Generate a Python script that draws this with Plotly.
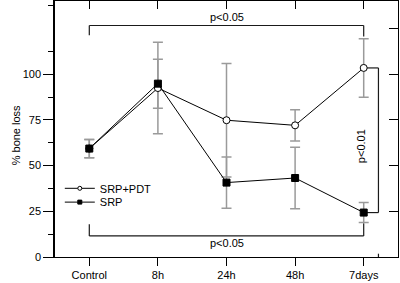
import plotly.graph_objects as go

categories = ["Control", "8h", "24h", "48h", "7days"]
x_pos = [0, 1, 2, 3, 4]
srp_pdt = [59.3, 92.4, 74.8, 72.0, 103.4]
srp_pdt_err = [5.0, 25.0, 31.0, 8.5, 16.0]
srp = [59.3, 94.8, 40.7, 43.2, 24.3]
srp_err = [5.0, 13.4, 14.0, 16.8, 5.5]
y_major = [0, 25, 50, 75, 100]
y_minor = [12.5, 37.5, 62.5, 87.5, 112.5, 137.5]
y_right = [25, 50, 75, 100, 125]

FONT = "Liberation Sans, Arial, sans-serif"
ERRC = "#9a9a9a"

fig = go.Figure()

for vals, errs in [(srp_pdt, srp_pdt_err), (srp, srp_err)]:
    fig.add_trace(go.Scatter(
        x=x_pos, y=vals, mode="markers", marker=dict(opacity=0, size=1),
        error_y=dict(type="data", array=errs, visible=True, color=ERRC,
                     thickness=1.5, width=5),
        showlegend=False, hoverinfo="skip"))

fig.add_trace(go.Scatter(
    x=x_pos, y=srp_pdt, mode="lines+markers", name="SRP+PDT",
    line=dict(color="black", width=1),
    marker=dict(symbol="circle", size=7, color="white",
                line=dict(color="black", width=1)),
    showlegend=False))
fig.add_trace(go.Scatter(
    x=x_pos, y=srp, mode="lines+markers", name="SRP",
    line=dict(color="black", width=1),
    marker=dict(symbol="square", size=7, color="black",
                line=dict(color="black", width=1)),
    showlegend=False))

fig.add_trace(go.Scatter(
    x=[None], y=[None], mode="lines+markers", name="SRP+PDT", legend="legend",
    line=dict(color="black", width=1),
    marker=dict(symbol="circle", size=4, color="white",
                line=dict(color="black", width=1))))
fig.add_trace(go.Scatter(
    x=[None], y=[None], mode="lines+markers", name="SRP", legend="legend2",
    line=dict(color="black", width=1),
    marker=dict(symbol="square", size=4, color="black",
                line=dict(color="black", width=1))))

fig.add_trace(go.Scatter(x=[0], y=[0], xaxis="x2", yaxis="y2", mode="markers",
                         marker=dict(opacity=0), showlegend=False, hoverinfo="skip"))

XR = [-0.5, 4.5]
YR = [0, 140]

leg_common = dict(xanchor="left", yanchor="top", bgcolor="rgba(0,0,0,0)",
                  font=dict(size=11), itemwidth=30)

fig.update_layout(
    width=400, height=283,
    margin=dict(l=55, r=2, t=1, b=26),
    paper_bgcolor="white", plot_bgcolor="white",
    font=dict(family=FONT, size=11, color="black"),
    showlegend=True,
    legend=dict(x=0.014, y=0.325, **leg_common),
    legend2=dict(x=0.014, y=0.271, **leg_common),
    xaxis=dict(range=XR, tickmode="array", tickvals=x_pos, ticktext=categories,
               automargin=False,
               showgrid=False, zeroline=False, showline=True, linecolor="black",
               linewidth=1.2, ticks="outside", ticklen=8, tickcolor="black",
               tickwidth=1),
    yaxis=dict(range=YR, tickmode="array", tickvals=y_major, automargin=False,
               showgrid=False, zeroline=False, showline=True, linecolor="black",
               linewidth=1.5, ticks="outside", ticklen=10, tickcolor="black",
               tickwidth=1,
               minor=dict(tickmode="array", tickvals=y_minor, ticks="outside",
                          ticklen=5, tickcolor="black", tickwidth=1, showgrid=False)),
    xaxis2=dict(range=XR, overlaying="x", side="top", tickmode="array",
                automargin=False,
                tickvals=x_pos, showticklabels=False, showgrid=False,
                zeroline=False, showline=True, linecolor="black", linewidth=1,
                ticks="inside", ticklen=8, tickcolor="black", tickwidth=1),
    yaxis2=dict(range=YR, overlaying="y", side="right", anchor="x", tickmode="array",
                automargin=False,
                tickvals=y_right, showticklabels=False, showgrid=False,
                zeroline=False, showline=True, linecolor="black", linewidth=1,
                ticks="inside", ticklen=9, tickcolor="black", tickwidth=1),
)

BC = "#1a1a1a"
BW = 1.2
shapes = []
def seg(x0, y0, x1, y1):
    shapes.append(dict(type="line", xref="x", yref="y", x0=x0, y0=y0, x1=x1, y1=y1,
                       line=dict(color=BC, width=BW), layer="below"))

seg(0, 121.3, 0, 126.6)
seg(0, 126.6, 4, 126.6)
seg(4, 126.6, 4, 120.6)
seg(0, 17.9, 0, 11.5)
seg(0, 11.5, 4, 11.5)
seg(4, 11.5, 4, 18.4)
seg(4, 103.4, 4.215, 103.4)
seg(4.215, 103.4, 4.215, 24.3)
seg(4.215, 24.3, 4, 24.3)
seg(4.215, 0, 4.215, 1.8)
fig.update_layout(shapes=shapes)

fig.add_annotation(x=2, y=131.3, xref="x", yref="y", text="p<0.05",
                   showarrow=False, font=dict(size=11))
fig.add_annotation(x=2, y=7.7, xref="x", yref="y", text="p<0.05",
                   showarrow=False, font=dict(size=11))
fig.add_annotation(x=3.96, y=60.6, xref="x", yref="y", text="p<0.01",
                   showarrow=False, textangle=-90, font=dict(size=11))
fig.add_annotation(x=-0.138, y=0.474, xref="paper", yref="paper",
                   text="% bone loss", showarrow=False, textangle=-90,
                   font=dict(size=11))

fig.write_html("out.html", config={"displayModeBar": False},
               post_script="document.body.style.margin='0';")
